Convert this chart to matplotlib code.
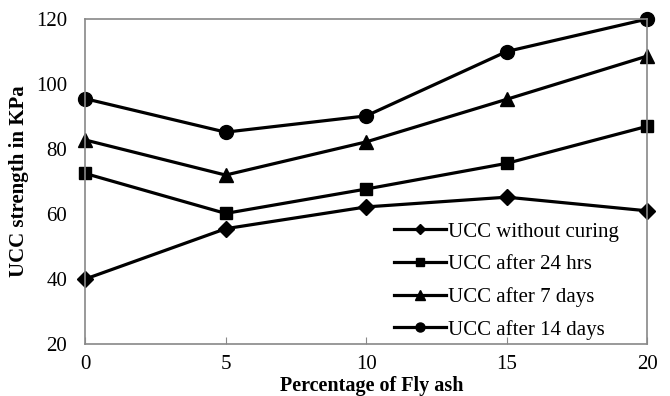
import matplotlib
matplotlib.use("Agg")
import matplotlib.pyplot as plt

plt.rcParams['font.family'] = ['Liberation Serif', 'DejaVu Serif']

fly_ash = [0, 5, 10, 15, 20]
ucc_no_curing = [40, 55.5, 62.2, 65.2, 61]
ucc_24hrs = [72.5, 60.2, 67.7, 75.6, 87]
ucc_7days = [82.8, 72, 82.2, 95.3, 108.6]
ucc_14days = [95.5, 85.2, 90.2, 110, 120]

fig = plt.figure(figsize=(6.7, 3.96), dpi=100)
ax = fig.add_axes([0.127, 0.131, 0.839, 0.821])

lw = 2.3
ax.plot(fly_ash, ucc_no_curing, color='black', lw=lw, marker='D', ms=8, label='UCC without curing', clip_on=False)
ax.plot(fly_ash, ucc_24hrs, color='black', lw=lw, marker='s', ms=9, label='UCC after 24 hrs', clip_on=False)
ax.plot(fly_ash, ucc_7days, color='black', lw=lw, marker='^', ms=10, label='UCC after 7 days', clip_on=False)
ax.plot(fly_ash, ucc_14days, color='black', lw=lw, marker='o', ms=10, label='UCC after 14 days', clip_on=False)

ax.set_xlim(0, 20)
ax.set_ylim(20, 120)
ax.set_xticks(fly_ash)
ax.set_yticks([20, 40, 60, 80, 100, 120])
ax.tick_params(axis='x', direction='in', length=5, color='#888888', labelsize=15, pad=8)
ax.tick_params(axis='y', length=0, labelsize=15, pad=13)
for s in ax.spines.values():
    s.set_color('#888888')
    s.set_linewidth(1.2)

ax.set_xlabel('Percentage of Fly ash', fontsize=14.5, fontweight='bold')
ax.xaxis.set_label_coords(0.51, -0.097)
ax.set_ylabel('UCC strength in KPa', fontsize=15, fontweight='bold')
ax.yaxis.set_label_coords(-0.1, 0.5)

ax.legend(loc='lower right', frameon=False, fontsize=15, markerscale=0.65,
          handlelength=2.5, handletextpad=0.1, labelspacing=0.62,
          borderaxespad=0, bbox_to_anchor=(0.965, -0.012))

fig.savefig('out.png', dpi=100)
